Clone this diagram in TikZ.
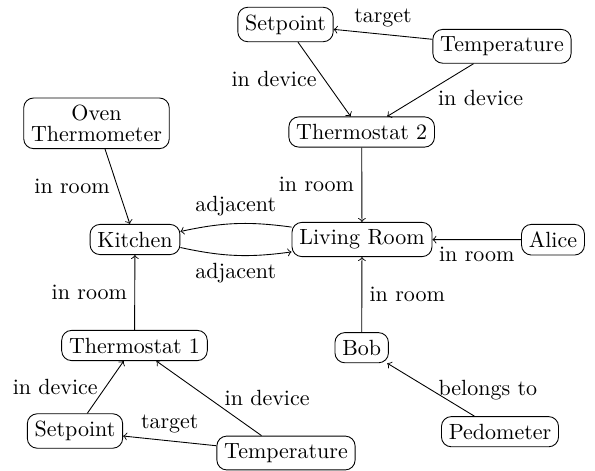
\documentclass[tikz,border=0pt]{standalone}
\begin{document}
\tikzset{
  box/.style={draw, rounded corners=4.5pt, line width=0.4pt},
  link/.style={->, line width=0.4pt}
}
\begin{tikzpicture}[x=0.4545pt,y=-0.4545pt]
\useasboundingbox (0,0) rectangle (595,470);
% nodes
\node[box] (sp2)   at (285.5,24.5) {Setpoint};
\node[box] (te2)   at (502,46.3)   {Temperature};
\node[box] (th2)   at (361.7,132)  {Thermostat 2};
\node[box, align=center] (oven) at (96.5,123.3) {Oven\\[-2.8pt]Thermometer};
\node[box] (kit)   at (135,239.5)  {Kitchen};
\node[box] (liv)   at (362,239.5)  {Living Room};
\node[box] (alice) at (553,239.7)  {Alice};
\node[box] (th1)   at (134.5,345.5){Thermostat 1};
\node[box] (bob)   at (361.7,347.7){Bob};
\node[box] (sp1)   at (75,431)     {Setpoint};
\node[box] (te1)   at (286,453)    {Temperature};
\node[box] (ped)   at (500,431.7)  {Pedometer};
% connectors
\draw[link] (te2) -- node[above]{target} (sp2);
\draw[link] (sp2) -- node[left]{in device} (th2);
\draw[link] (te2) -- node[right, yshift=-3.6pt]{in device} (th2);
\draw[link] (oven) -- node[left]{in room} (kit);
\draw[link] (th2) -- node[left]{in room} (liv);
\draw[link] (liv) to[bend right=10] node[above]{adjacent} (kit);
\draw[link] (kit) to[bend right=10] node[below]{adjacent} (liv);
\draw[link] (alice) -- node[below]{in room} (liv);
\draw[link] (th1) -- node[left]{in room} (kit);
\draw[link] (bob) -- node[right]{in room} (liv);
\draw[link] (sp1) -- node[left]{in device} (th1);
\draw[link] (te1) -- node[right, xshift=3.6pt]{in device} (th1);
\draw[link] (te1) -- node[above]{target} (sp1);
\draw[link] (ped) -- node[right]{belongs to} (bob);
\end{tikzpicture}
\end{document}
